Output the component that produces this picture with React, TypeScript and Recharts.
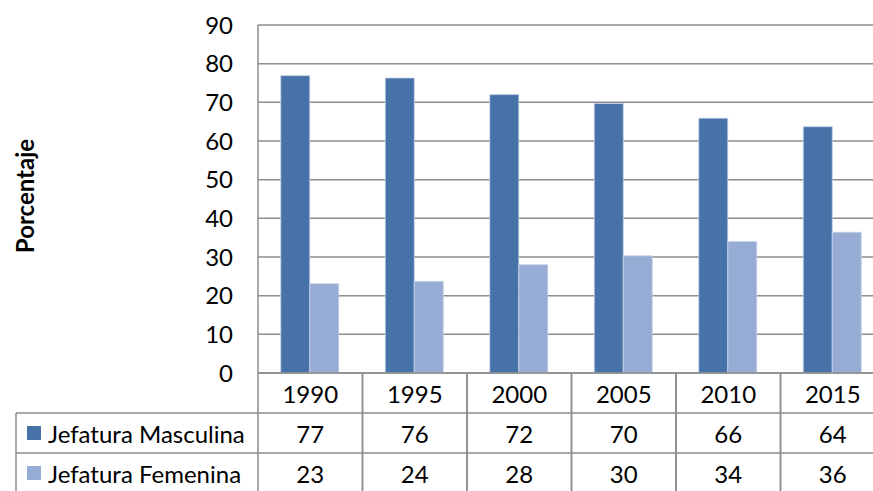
import { BarChart, Bar, XAxis, YAxis, CartesianGrid, Customized } from 'recharts';

const years = ['1990', '1995', '2000', '2005', '2010', '2015'];
const masculina = [76.9, 76.3, 72.0, 69.7, 65.9, 63.7];
const femenina = [23.1, 23.7, 28.0, 30.3, 34.0, 36.4];
const masculinaTabla = [77, 76, 72, 70, 66, 64];
const femeninaTabla = [23, 24, 28, 30, 34, 36];
const yTicks = [0, 10, 20, 30, 40, 50, 60, 70, 80, 90];

const DARK = '#4672A8';
const LIGHT = '#97ACD4';
const LINE = '#8c8c8c';
const FONT = 'Lato, "Noto Sans", sans-serif';
const FS = 24;

// chart geometry (the plot runs past the right edge, like the original crop)
const CHART_W = 885;
const CHART_H = 491;
const Y_AXIS_W = 258;
const TABLE_H = 118;
const ROW_H = 40;
const BAND = (CHART_W - Y_AXIS_W) / years.length;

const data = years.map((year, i) => ({
  year,
  masculina: masculina[i],
  femenina: femenina[i],
}));

function TableColumn(props: any) {
  const { x, y, payload, index } = props;
  const half = BAND / 2;
  const textStyle = { fontFamily: FONT, fontSize: FS, fill: '#000' };
  return (
    <g>
      <line x1={x - half} y1={y} x2={x - half} y2={y + TABLE_H} stroke={LINE} strokeWidth={1.5} />
      <line x1={x + half} y1={y} x2={x + half} y2={y + TABLE_H} stroke={LINE} strokeWidth={1.5} />
      <text x={x} y={y + ROW_H / 2} textAnchor="middle" dominantBaseline="central" style={textStyle}>
        {payload.value}
      </text>
      <text x={x} y={y + ROW_H * 1.5} textAnchor="middle" dominantBaseline="central" style={textStyle}>
        {masculinaTabla[index]}
      </text>
      <text x={x} y={y + ROW_H * 2.5} textAnchor="middle" dominantBaseline="central" style={textStyle}>
        {femeninaTabla[index]}
      </text>
    </g>
  );
}

function LegendColumn() {
  const top = CHART_H - TABLE_H + ROW_H;
  const left = 16;
  const textStyle = { fontFamily: FONT, fontSize: FS, fill: '#000' };
  const rows = [
    { label: 'Jefatura Masculina', color: DARK },
    { label: 'Jefatura Femenina', color: LIGHT },
  ];
  return (
    <g>
      <line x1={left} y1={top} x2={CHART_W} y2={top} stroke={LINE} strokeWidth={1.5} />
      <line x1={left} y1={top + ROW_H} x2={CHART_W} y2={top + ROW_H} stroke={LINE} strokeWidth={1.5} />
      <line x1={left} y1={top} x2={left} y2={CHART_H} stroke={LINE} strokeWidth={1.5} />
      {rows.map((r, i) => (
        <g key={r.label}>
          <rect x={27} y={top + i * ROW_H + 13} width={14} height={14} fill={r.color} />
          <text x={48} y={top + i * ROW_H + ROW_H / 2} dominantBaseline="central" style={textStyle}>
            {r.label}
          </text>
        </g>
      ))}
      <text
        x={24}
        y={196}
        transform="rotate(-90, 24, 196)"
        textAnchor="middle"
        dominantBaseline="central"
        style={{ fontFamily: FONT, fontSize: 24, fontWeight: 'bold', fill: '#000' }}
      >
        Porcentaje
      </text>
    </g>
  );
}

export default function App() {
  return (
    <div
      style={{
        position: 'absolute',
        left: 0,
        top: 0,
        width: 873,
        height: 491,
        overflow: 'hidden',
        background: '#fff',
      }}
    >
      <BarChart
        width={CHART_W}
        height={CHART_H}
        data={data}
        margin={{ top: 25, right: 0, bottom: 0, left: 0 }}
        barCategoryGap="21.8%"
        barGap={0}
      >
        <CartesianGrid vertical={false} stroke={LINE} strokeWidth={1.5} />
        <XAxis
          dataKey="year"
          height={TABLE_H}
          interval={0}
          tickLine={false}
          tickSize={0}
          tickMargin={0}
          axisLine={{ stroke: LINE, strokeWidth: 1.5 }}
          tick={TableColumn}
        />
        <YAxis
          width={Y_AXIS_W}
          domain={[0, 90]}
          ticks={yTicks}
          interval={0}
          tickLine={false}
          tickSize={0}
          tickMargin={25}
          axisLine={{ stroke: LINE, strokeWidth: 1.5 }}
          tick={{ fill: '#000', fontSize: FS, fontFamily: FONT }}
        />
        <Bar dataKey="masculina" fill={DARK} stroke="#c5d2e8" strokeWidth={0.8} isAnimationActive={false} />
        <Bar dataKey="femenina" fill={LIGHT} stroke="#c5d2e8" strokeWidth={0.8} isAnimationActive={false} />
        <Customized component={LegendColumn} />
      </BarChart>
    </div>
  );
}
